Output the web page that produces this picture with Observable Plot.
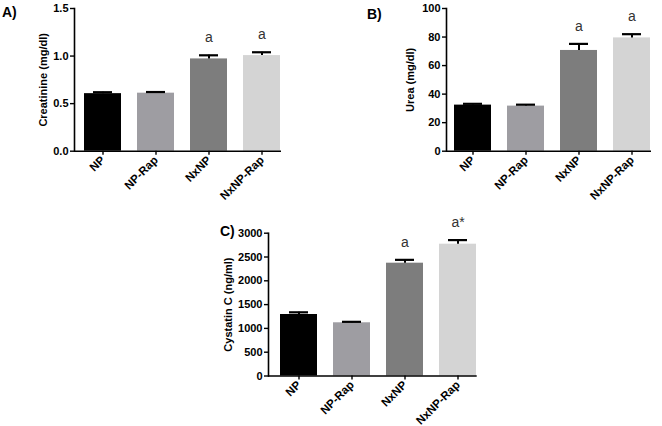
<!DOCTYPE html>
<html>
<head>
<meta charset="utf-8">
<script src="https://cdn.jsdelivr.net/npm/d3@7"></script>
<script src="https://cdn.jsdelivr.net/npm/@observablehq/plot@0.6"></script>
<style>
  html, body { margin: 0; padding: 0; background: #fff; }
  #root { position: relative; width: 662px; height: 426px; background: #fff; overflow: hidden;
          font-family: "Liberation Sans", Arial, sans-serif; }
  .panel { position: absolute; }
  .tag { position: absolute; font-weight: bold; font-size: 14px; line-height: 1; color: #000; }
</style>
</head>
<body>
<div id="root"></div>
<script>
// ---- data ----
const groups = ["NP", "NP-Rap", "NxNP", "NxNP-Rap"];
const barColors = ["#000000", "#9e9da2", "#7d7d7d", "#d4d4d4"];

const creatinineMean = [0.605, 0.61, 0.97, 1.005];
const creatinineUpper = [0.62, 0.622, 1.008, 1.04];
const creatinineSig = ["", "", "a", "a"];
const creatinineTicks = [0, 0.5, 1.0, 1.5];

const ureaMean = [32.3, 31.6, 70.6, 79.4];
const ureaUpper = [33.2, 32.6, 75.2, 82.0];
const ureaSig = ["", "", "a", "a"];
const ureaTicks = [0, 20, 40, 60, 80, 100];

const cystatinMean = [1292, 1118, 2370, 2769];
const cystatinUpper = [1338, 1138, 2440, 2855];
const cystatinSig = ["", "", "a", "a*"];
const cystatinTicks = [0, 500, 1000, 1500, 2000, 2500, 3000];

const FONT = '"Liberation Sans", Arial, sans-serif';

function panel(cfg) {
  const rows = groups.map((g, i) => ({group: g, mean: cfg.mean[i], upper: cfg.upper[i], sig: cfg.sig[i]}));
  return Plot.plot({
    width: cfg.width, height: cfg.height,
    marginLeft: cfg.ml, marginRight: cfg.mr, marginTop: cfg.mt, marginBottom: cfg.mb,
    style: {fontFamily: FONT, fontSize: "11px", color: "#000", background: "transparent", overflow: "visible"},
    x: {domain: groups, range: cfg.xRange, paddingInner: 0.3, paddingOuter: 0},
    y: {domain: cfg.domain, nice: false},
    color: {domain: groups, range: barColors},
    marks: [
      Plot.barY(rows, {x: "group", y: "mean", fill: "group"}),
      Plot.ruleX(rows, {x: "group", y1: "mean", y2: "upper", stroke: "#000", strokeWidth: 2}),
      Plot.tickY(rows, {x: "group", y: "upper", stroke: "#000", strokeWidth: 2.2, inset: 9}),
      Plot.text(rows, {x: "group", y: "upper", text: "sig", lineAnchor: "bottom", dy: -13,
        fontSize: 14, fill: "#333", fontFamily: FONT}),
      Plot.ruleY([0], {stroke: "#000", strokeWidth: 1.6}),
      Plot.frame({anchor: "left", stroke: "#000", strokeWidth: 1.6}),
      Plot.axisY({ticks: cfg.ticks, tickFormat: cfg.fmt, tickSize: 4, tickPadding: 2,
        fontWeight: "bold", fontSize: 11, stroke: "#000", strokeWidth: 1.4,
        label: cfg.label, labelAnchor: "center", labelArrow: "none", labelOffset: cfg.lo}),
      Plot.axisX({tickRotate: -45, tickSize: 4, tickPadding: 3, fontWeight: "bold", fontSize: 11.5,
        stroke: "#000", strokeWidth: 1.4, label: null})
    ]
  });
}

const root = document.getElementById("root");
function place(node, left, top) {
  const d = document.createElement("div");
  d.className = "panel";
  d.style.left = left + "px"; d.style.top = top + "px";
  d.appendChild(node);
  root.appendChild(d);
}
function tag(text, left, top) {
  const d = document.createElement("div");
  d.className = "tag"; d.textContent = text;
  d.style.left = left + "px"; d.style.top = top + "px";
  root.appendChild(d);
}

place(panel({width: 331, height: 220, ml: 74, mr: 50, mt: 8, mb: 69.3, xRange: [82.7, 281],
  domain: [0, 1.5], ticks: creatinineTicks, fmt: d3.format(".1f"),
  mean: creatinineMean, upper: creatinineUpper, sig: creatinineSig,
  label: "Creatinine (mg/dl)", lo: 35}), 0, 0);

place(panel({width: 331, height: 220, ml: 115, mr: 11, mt: 8, mb: 69.3, xRange: [122.3, 320],
  domain: [0, 100], ticks: ureaTicks, fmt: d3.format("d"),
  mean: ureaMean, upper: ureaUpper, sig: ureaSig,
  label: "Urea (mg/dl)", lo: 40}), 331, 0);

place(panel({width: 331, height: 216, ml: 88, mr: 34.3, mt: 22.7, mb: 50.5, xRange: [99, 296.7],
  domain: [0, 3000], ticks: cystatinTicks, fmt: d3.format("d"),
  mean: cystatinMean, upper: cystatinUpper, sig: cystatinSig,
  label: "Cystatin C (ng/ml)", lo: 44}), 180, 210);

tag("A)", 2, 5);
tag("B)", 367, 7);
tag("C)", 220, 224);
</script>
</body>
</html>
